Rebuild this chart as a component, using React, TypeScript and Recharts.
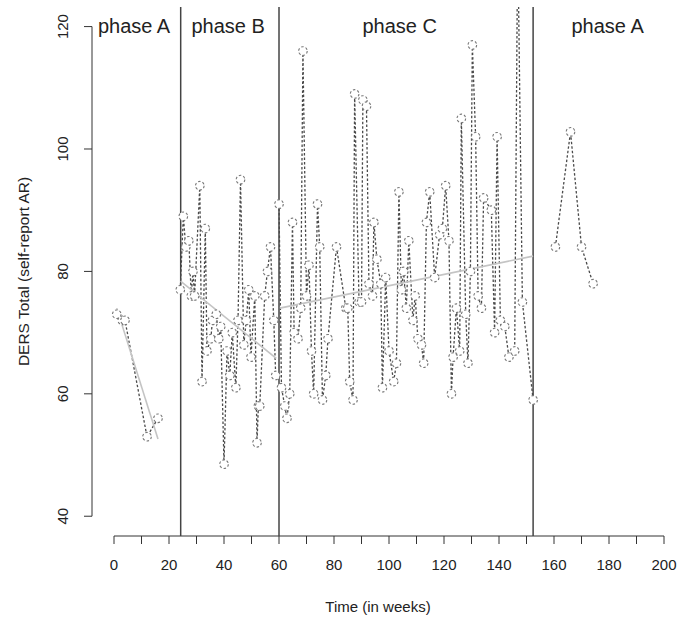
import {
  ComposedChart,
  Line,
  XAxis,
  YAxis,
  ReferenceLine,
  ReferenceDot,
  Label,
} from "recharts";

// observations per phase (week, DERS total)
const weeksA1 = [1, 3, 4, 12, 16];
const scoresA1 = [73, 72, 72, 53, 56];

const weeksB = [
  24.1, 25.2, 26.1, 27.2, 28.1, 28.7, 29.3, 31.2, 32, 33.2, 33.8, 35.2, 35.8,
  37.2, 38.1, 38.8, 40, 41.1, 42.1, 43, 44.3, 45.1, 46, 47.2, 48.1, 49, 49.8,
  51.2, 52, 52.5, 53, 54.8, 55.8, 56.9, 58.1, 58.8,
];
const scoresB = [
  77, 89, 84, 85, 76, 80, 76, 94, 62, 87, 67, 69, 72, 73, 69, 71, 48.5, 67, 63,
  70, 61, 72, 95, 68, 72, 77, 66, 76, 52, 58, 58, 76, 80, 84, 72, 63,
];

const weeksC = [
  60, 60.9, 62.1, 62.9, 63.9, 64.9, 65.5, 66.9, 67.9, 68.7, 70, 70.9, 71.8,
  72.6, 74, 74.8, 75.8, 77, 77.8, 80.9, 84.3, 85, 85.7, 86.9, 87.5, 89.1, 90,
  90.5, 91.8, 92.7, 94, 94.5, 95.6, 97, 97.6, 98.8, 100, 101.7, 102.7, 103.6,
  104.5, 105.3, 106.3, 107.2, 108.7, 109.5, 110.5, 111.8, 112.6, 113.6, 114.8,
  116.6, 118.4, 119.4, 120.6, 121.8, 122.7, 123.3, 124.5, 125.7, 126.3, 127.9,
  128.7, 129.6, 130.3, 131.5, 132.4, 133.6, 134.4, 137.2, 138.4, 139.3, 140.5,
  142.1, 143.6, 145.7, 146.8, 148.5, 152.4,
];
const scoresC = [
  91, 61, 58, 56, 60, 88, 70, 69, 74, 116, 76, 81, 67, 60, 91, 84, 59, 63, 69,
  84, 74, 74, 62, 59, 109, 75, 75, 108, 107, 78, 76, 88, 82, 78, 61, 79, 67, 62,
  65, 93, 77, 80, 74, 85, 72, 76, 69, 68, 65, 88, 93, 79, 86, 87, 94, 85, 60,
  66, 74, 67, 105, 73, 65, 80, 117, 102, 76, 74, 92, 90, 70, 102, 72, 71, 66,
  67, 135, 75, 59,
];

const weeksA2 = [160.5, 166, 170, 174.2];
const scoresA2 = [84, 102.8, 84, 78];

// fitted trend per phase (start/end)
const trendWeeksA1 = [1, 16];
const trendScoresA1 = [74, 52.6];
const trendWeeksB = [24.2, 59];
const trendScoresB = [78.4, 65.8];
const trendWeeksC = [60.3, 152.4];
const trendScoresC = [74, 82.5];

const phaseBreaks = [24.25, 60, 152.4];
const phaseNames = ["phase A", "phase B", "phase C", "phase A"];
const phaseLabelWeeks = [7.3, 41.5, 103.9, 179.5];
const phaseLabelLevel = 120.1;

const xTicks = [
  0, 10, 20, 30, 40, 50, 60, 70, 80, 90, 100, 110, 120, 130, 140, 150, 160, 170,
  180, 190, 200,
];
const yTicks = [40, 60, 80, 100, 120];

const zip = (xs: number[], ys: number[]) =>
  xs.map((x, i) => ({ week: x, score: ys[i] }));

const font = "'Liberation Sans', Arial, sans-serif";
const ink = "#222";

const XTick = (props: any) => {
  const { x, y, payload } = props;
  if (payload.value % 20 !== 0) return <g />;
  return (
    <text x={x} y={y + 26} textAnchor="middle" fontSize={15} fill={ink} fontFamily={font}>
      {payload.value}
    </text>
  );
};

const YTick = (props: any) => {
  const { x, y, payload } = props;
  const cx = x - 21.5;
  return (
    <text
      x={cx}
      y={y}
      transform={`rotate(-90 ${cx} ${y})`}
      textAnchor="middle"
      dominantBaseline="central"
      fontSize={15}
      fill={ink}
      fontFamily={font}
    >
      {payload.value}
    </text>
  );
};

const dotStyle = { r: 4.3, stroke: "#787878", strokeWidth: 1.1, fill: "#fff" };

export default function App() {
  const series = [
    zip(weeksA1, scoresA1),
    zip(weeksB, scoresB),
    zip(weeksC, scoresC),
    zip(weeksA2, scoresA2),
  ];
  const trends = [
    zip(trendWeeksA1, trendScoresA1),
    zip(trendWeeksB, trendScoresB),
    zip(trendWeeksC, trendScoresC),
  ];

  return (
    <div style={{ position: "absolute", left: 0, top: 0, width: 679, height: 620, background: "#fff" }}>
      <ComposedChart
        width={679}
        height={620}
        margin={{ top: 7, right: 0, bottom: 0, left: 0 }}
        style={{ fontFamily: font }}
      >
        <XAxis
          type="number"
          dataKey="week"
          domain={[-8, 205.45]}
          ticks={xTicks}
          allowDataOverflow
          axisLine={false}
          tickSize={8}
          tickMargin={0}
          tickLine={{ stroke: "#333" }}
          tick={<XTick />}
          height={84}
          interval={0}
        >
          <Label
            content={() => (
              <text x={378} y={612} textAnchor="middle" fontSize={15} fill={ink} fontFamily={font}>
                Time (in weeks)
              </text>
            )}
          />
        </XAxis>
        <YAxis
          type="number"
          dataKey="score"
          domain={[36.77, 123.2]}
          ticks={yTicks}
          allowDataOverflow
          axisLine={false}
          tickSize={8}
          tickMargin={0}
          tickLine={{ stroke: "#333" }}
          tick={<YTick />}
          width={92}
          interval={0}
        >
          <Label
            content={() => (
              <text
                x={23}
                y={271.5}
                transform="rotate(-90 23 271.5)"
                textAnchor="middle"
                dominantBaseline="central"
                fontSize={15.5}
                fill={ink}
                fontFamily={font}
              >
                DERS Total (self-report AR)
              </text>
            )}
          />
        </YAxis>

        <ReferenceLine
          segment={[{ x: -8, y: 40 }, { x: -8, y: 120 }]}
          stroke="#333"
          ifOverflow="visible"
        />
        <ReferenceLine
          segment={[{ x: 0, y: 36.77 }, { x: 200, y: 36.77 }]}
          stroke="#333"
          ifOverflow="visible"
        />
        {phaseBreaks.map((b) => (
          <ReferenceLine key={b} x={b} stroke="#444" strokeWidth={1.5} />
        ))}

        {series.map((d, i) => (
          <Line
            key={`s${i}`}
            data={d}
            dataKey="score"
            type="linear"
            stroke="#4a4a4a"
            strokeWidth={1.3}
            strokeDasharray="2.5 2"
            dot={dotStyle}
            activeDot={false}
            isAnimationActive={false}
          />
        ))}
        {trends.map((d, i) => (
          <Line
            key={`t${i}`}
            data={d}
            dataKey="score"
            type="linear"
            stroke="#c4c4c4"
            strokeWidth={1.6}
            dot={false}
            activeDot={false}
            isAnimationActive={false}
          />
        ))}

        {phaseNames.map((name, i) => (
          <ReferenceDot
            key={`p${i}`}
            x={phaseLabelWeeks[i]}
            y={phaseLabelLevel}
            r={1}
            fill="none"
            stroke="none"
            ifOverflow="visible"
            label={{ value: name, position: "center", fontSize: 20, fill: ink, fontFamily: font }}
          />
        ))}
      </ComposedChart>
    </div>
  );
}
